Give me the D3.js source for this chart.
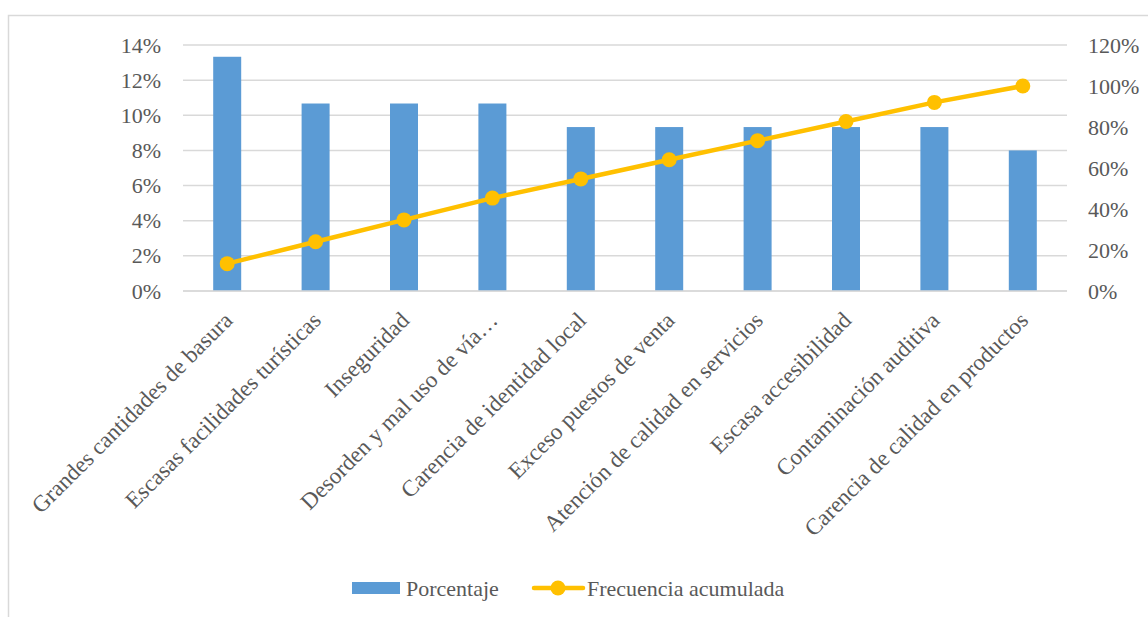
<!DOCTYPE html>
<html>
<head>
<meta charset="utf-8">
<script src="https://cdn.jsdelivr.net/npm/d3@7"></script>
<style>
  html, body { margin: 0; padding: 0; background: #fff; }
  svg { display: block; }
  text { font-family: "Times New Roman", "Liberation Serif", serif; fill: #595959; }
</style>
</head>
<body>
<svg id="chart" width="1148" height="617"></svg>
<script>
// Problem categories (Pareto order)
const categories = [
  "Grandes cantidades de basura",
  "Escasas facilidades turísticas",
  "Inseguridad",
  "Desorden y mal uso de vía…",
  "Carencia de identidad local",
  "Exceso puestos de venta",
  "Atención de calidad en servicios",
  "Escasa accesibilidad",
  "Contaminación auditiva",
  "Carencia de calidad en productos"
];
// Share of responses per category (%)
const porcentaje = [13.33, 10.67, 10.67, 10.67, 9.33, 9.33, 9.33, 9.33, 9.33, 8.0];
// Cumulative frequency (%)
const acumulada = [13.33, 24.0, 34.67, 45.33, 54.67, 64.0, 73.33, 82.67, 92.0, 100.0];
// Axis ticks
const leftTicks = [0, 2, 4, 6, 8, 10, 12, 14];
const rightTicks = [0, 20, 40, 60, 80, 100, 120];

const svg = d3.select("#chart");
const plot = { left: 183, right: 1067, top: 45, bottom: 291 };
const fontSize = 22;
const labelSize = 23;
const serif = '"Times New Roman", "Liberation Serif", serif';

// Outer frame
svg.append("rect")
  .attr("x", 8.5).attr("y", 15.5)
  .attr("width", 1200).attr("height", 700)
  .attr("fill", "none").attr("stroke", "#d9d9d9").attr("stroke-width", 1.5);

const x = d3.scaleBand().domain(categories).range([plot.left, plot.right]).paddingInner(0).paddingOuter(0);
const yL = d3.scaleLinear().domain([0, 14]).range([plot.bottom, plot.top]);
const yR = d3.scaleLinear().domain([0, 120]).range([plot.bottom, plot.top]);

// Gridlines
svg.append("g").selectAll("line").data(leftTicks).join("line")
  .attr("x1", plot.left).attr("x2", plot.right)
  .attr("y1", d => yL(d)).attr("y2", d => yL(d))
  .attr("stroke", "#d9d9d9").attr("stroke-width", 1.5);

// Left axis
const axL = d3.axisLeft(yL).tickValues(leftTicks).tickFormat(d => d + "%").tickSize(0).tickPadding(22);
const gL = svg.append("g").attr("transform", `translate(${plot.left},0)`).call(axL);
gL.attr("font-family", serif);
gL.select(".domain").remove();
gL.selectAll("text").attr("font-size", fontSize).style("font-family", serif).attr("fill", "#595959");

// Right axis
const axR = d3.axisRight(yR).tickValues(rightTicks).tickFormat(d => d + "%").tickSize(0).tickPadding(21);
const gR = svg.append("g").attr("transform", `translate(${plot.right},0)`).call(axR);
gR.attr("font-family", serif);
gR.select(".domain").remove();
gR.selectAll("text").attr("font-size", fontSize).style("font-family", serif).attr("fill", "#595959");

// Bars
const barW = 28;
svg.append("g").selectAll("rect").data(porcentaje).join("rect")
  .attr("x", (d, i) => x(categories[i]) + x.bandwidth() / 2 - barW / 2)
  .attr("y", d => yL(d))
  .attr("width", barW)
  .attr("height", d => yL(0) - yL(d))
  .attr("fill", "#5b9bd5");

// Baseline
svg.append("line")
  .attr("x1", plot.left).attr("x2", plot.right)
  .attr("y1", plot.bottom).attr("y2", plot.bottom)
  .attr("stroke", "#d9d9d9").attr("stroke-width", 1.5);

// Cumulative line
const line = d3.line()
  .x((d, i) => x(categories[i]) + x.bandwidth() / 2)
  .y(d => yR(d));
svg.append("path").datum(acumulada)
  .attr("d", line).attr("fill", "none")
  .attr("stroke", "#ffc000").attr("stroke-width", 4.5).attr("stroke-linejoin", "round");
svg.append("g").selectAll("circle").data(acumulada).join("circle")
  .attr("cx", (d, i) => x(categories[i]) + x.bandwidth() / 2)
  .attr("cy", d => yR(d))
  .attr("r", 7.5).attr("fill", "#ffc000");

// Category labels rotated
svg.append("g").selectAll("text").data(categories).join("text")
  .attr("transform", d => `translate(${x(d) + x.bandwidth() / 2 + 1},${plot.bottom + 25}) rotate(-45)`)
  .attr("text-anchor", "end")
  .attr("dy", "0.35em")
  .attr("font-size", labelSize)
  .style("font-family", serif)
  .text(d => d);

// Legend
const lg = svg.append("g");
lg.append("rect").attr("x", 352).attr("y", 582).attr("width", 48).attr("height", 12).attr("fill", "#5b9bd5");
lg.append("text").attr("x", 406).attr("y", 588).attr("dy", "0.35em").attr("font-size", fontSize).style("font-family", serif).text("Porcentaje");
lg.append("line").attr("x1", 534).attr("x2", 583).attr("y1", 588).attr("y2", 588)
  .attr("stroke", "#ffc000").attr("stroke-width", 4.5).attr("stroke-linecap", "round");
lg.append("circle").attr("cx", 558).attr("cy", 588).attr("r", 7.5).attr("fill", "#ffc000");
lg.append("text").attr("x", 587).attr("y", 588).attr("dy", "0.35em").attr("font-size", fontSize).style("font-family", serif).text("Frecuencia acumulada");
</script>
</body>
</html>
